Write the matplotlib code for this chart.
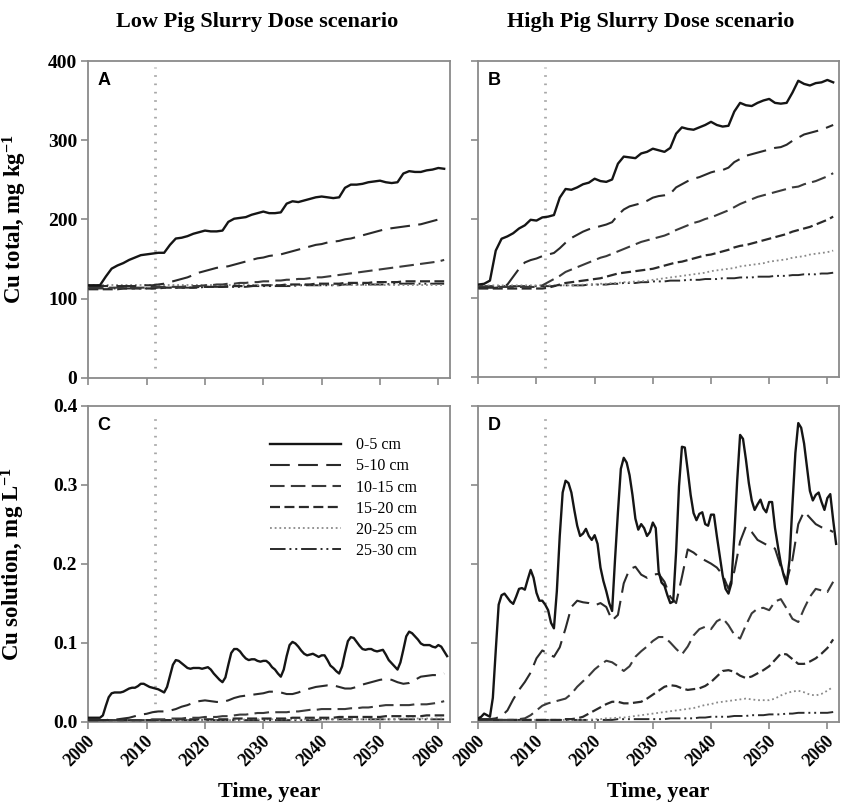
import numpy as np
import matplotlib
matplotlib.use("Agg")
import matplotlib.pyplot as plt
from matplotlib.ticker import FormatStrFormatter, MultipleLocator
from matplotlib.transforms import ScaledTranslation

plt.rcParams["font.family"] = "Liberation Serif"
plt.rcParams["font.weight"] = "bold"
plt.rcParams["axes.labelweight"] = "bold"
plt.rcParams["mathtext.fontset"] = "custom"
plt.rcParams["mathtext.rm"] = "Liberation Serif:bold"
plt.rcParams["mathtext.bf"] = "Liberation Serif:bold"
plt.rcParams["mathtext.default"] = "bf"

# ---------------------------------------------------------------- data
YEARS = np.arange(2000, 2062)            # yearly outputs 2000-2061
HALF_YEARS = np.arange(2000, 2062, 0.5)  # half-yearly outputs 2000-2061.5
LAYERS = ["0-5 cm", "5-10 cm", "10-15 cm", "15-20 cm", "20-25 cm", "25-30 cm"]
START_YEAR = 2011.4                      # start of the scenario projection
PANEL_TITLES = ["Low Pig Slurry Dose scenario", "High Pig Slurry Dose scenario"]

# Cu total (mg/kg), low dose
a_05 = [117, 117, 117, 128, 138, 142, 145, 149, 152, 155,
        156, 157, 158, 158, 168, 176, 177, 179, 182, 184,
        186, 185, 185, 186, 197, 201, 202, 203, 206, 208,
        210, 208, 208, 209, 220, 223, 222, 224, 226, 228,
        229, 228, 227, 228, 240, 244, 244, 245, 247, 248,
        249, 247, 246, 247, 258, 261, 260, 260, 262, 263,
        265, 264]
a_510 = [116, 116, 116, 116, 116, 116, 116, 116, 116, 117,
         117, 117, 118, 119, 121, 123, 125, 127, 130, 133,
         135, 137, 139, 140, 141, 143, 145, 147, 149, 151,
         152, 154, 155, 156, 158, 160, 162, 164, 166, 168,
         169, 171, 172, 173, 175, 176, 178, 180, 182, 184,
         186, 188, 189, 190, 191, 192, 193, 194, 196, 198,
         200, 202]
a_1015 = [114, 114, 114, 114, 114, 114, 114, 114, 114, 114,
          114, 115, 115, 115, 115, 115, 115, 116, 116, 116,
          117, 117, 118, 118, 119, 119, 120, 120, 121, 121,
          122, 122, 123, 123, 124, 124, 125, 125, 126, 127,
          127, 128, 129, 130, 131, 132, 133, 134, 135, 136,
          137, 138, 139, 140, 141, 142, 143, 144, 145, 146,
          147, 149]
a_1520 = [112, 112, 112, 112, 112, 112, 113, 113, 113, 113,
          113, 113, 113, 114, 114, 114, 114, 114, 114, 115,
          115, 115, 115, 115, 116, 116, 116, 116, 116, 117,
          117, 117, 117, 117, 118, 118, 118, 118, 118, 119,
          119, 119, 119, 119, 120, 120, 120, 120, 120, 121,
          121, 121, 121, 121, 122, 122, 122, 122, 122, 122,
          122, 122]
a_2025 = [117, 117, 117, 117, 117, 117, 117, 117, 117, 117,
          117, 117, 117, 117, 117, 117, 117, 117, 117, 117,
          117, 117, 117, 117, 117, 117, 117, 117, 117, 117,
          117, 117, 117, 117, 117, 117, 117, 117, 117, 117,
          117, 117, 117, 117, 117, 117, 117, 117, 117, 117,
          117, 117, 117, 117, 117, 117, 117, 117, 117, 117,
          117, 117]
a_2530 = [113, 113, 113, 113, 113, 113, 113, 113, 113, 113,
          113, 113, 114, 114, 114, 114, 114, 114, 114, 114,
          115, 115, 115, 115, 115, 115, 115, 115, 116, 116,
          116, 116, 116, 116, 116, 116, 117, 117, 117, 117,
          117, 117, 117, 117, 118, 118, 118, 118, 118, 118,
          118, 118, 119, 119, 119, 119, 119, 119, 119, 119,
          119, 119]

# Cu total (mg/kg), high dose
b_05 = [117, 118, 122, 160, 175, 178, 182, 188, 192, 199,
        198, 202, 203, 205, 227, 238, 237, 240, 244, 246,
        251, 248, 247, 250, 270, 279, 278, 277, 283, 285,
        289, 287, 285, 290, 308, 316, 314, 313, 316, 319,
        323, 319, 317, 318, 336, 347, 344, 343, 347, 350,
        352, 347, 346, 347, 360, 375, 371, 369, 372, 373,
        376, 373]
b_510 = [113, 113, 113, 113, 114, 117, 127, 137, 145, 148,
         150, 153, 155, 157, 163, 170, 176, 180, 184, 187,
         189, 191, 193, 196, 205, 212, 216, 218, 220, 223,
         227, 229, 230, 232, 240, 244, 248, 251, 253, 256,
         259, 261, 262, 265, 272, 276, 280, 282, 284, 286,
         288, 290, 291, 294, 299, 303, 307, 309, 311, 313,
         316, 319]
b_1015 = [114, 114, 114, 114, 114, 114, 114, 114, 114, 114,
          114, 116, 120, 124, 128, 133, 136, 139, 142, 145,
          148, 151, 153, 156, 159, 162, 165, 168, 171, 173,
          175, 177, 179, 182, 186, 189, 192, 195, 197, 200,
          202, 205, 208, 211, 215, 219, 222, 225, 228, 230,
          232, 234, 236, 238, 240, 241, 244, 246, 248, 251,
          254, 258]
b_1520 = [112, 112, 112, 112, 112, 112, 112, 112, 112, 112,
          112, 112, 113, 115, 117, 119, 120, 121, 122, 123,
          124, 125, 127, 129, 131, 132, 133, 134, 135, 136,
          137, 139, 141, 143, 145, 146, 148, 150, 152, 154,
          155, 157, 159, 161, 164, 166, 167, 169, 171, 173,
          175, 177, 179, 181, 184, 186, 188, 190, 193, 196,
          199, 203]
b_2025 = [116, 116, 116, 116, 116, 116, 116, 116, 116, 116,
          116, 116, 116, 116, 116, 116, 116, 116, 117, 117,
          117, 118, 118, 119, 119, 120, 120, 121, 121, 122,
          123, 124, 125, 126, 127, 128, 129, 130, 131, 132,
          134, 135, 136, 137, 138, 140, 141, 142, 143, 144,
          146, 147, 148, 149, 151, 152, 153, 155, 156, 157,
          158, 160]
b_2530 = [115, 115, 115, 115, 115, 115, 115, 115, 115, 115,
          115, 115, 115, 115, 116, 116, 116, 116, 116, 117,
          117, 117, 117, 118, 118, 119, 119, 119, 120, 120,
          121, 121, 121, 122, 122, 122, 123, 123, 123, 124,
          124, 124, 125, 125, 125, 126, 126, 126, 127, 127,
          127, 128, 128, 128, 129, 129, 130, 130, 130, 131,
          131, 132]

# Cu in solution (mg/L), low dose; top layer half-yearly
c_05 = [0.005, 0.005, 0.005, 0.005, 0.005, 0.008, 0.020, 0.031, 0.036, 0.037,
        0.037, 0.037, 0.038, 0.040, 0.042, 0.043, 0.043, 0.045, 0.048, 0.048,
        0.046, 0.044, 0.043, 0.042, 0.041, 0.039, 0.037, 0.044, 0.058, 0.072,
        0.078, 0.077, 0.074, 0.071, 0.068, 0.067, 0.068, 0.068, 0.068, 0.067,
        0.068, 0.069, 0.066, 0.061, 0.057, 0.053, 0.050, 0.056, 0.072, 0.087,
        0.092, 0.092, 0.089, 0.084, 0.080, 0.078, 0.079, 0.079, 0.077, 0.076,
        0.077, 0.077, 0.074, 0.069, 0.066, 0.061, 0.057, 0.066, 0.083, 0.097,
        0.101, 0.099, 0.095, 0.090, 0.086, 0.084, 0.085, 0.086, 0.084, 0.082,
        0.084, 0.084, 0.078, 0.071, 0.068, 0.064, 0.061, 0.070, 0.087, 0.102,
        0.107, 0.106, 0.101, 0.096, 0.092, 0.091, 0.092, 0.092, 0.090, 0.089,
        0.090, 0.091, 0.085, 0.078, 0.074, 0.070, 0.066, 0.075, 0.091, 0.108,
        0.114, 0.112, 0.108, 0.104, 0.099, 0.097, 0.097, 0.097, 0.095, 0.094,
        0.097, 0.095, 0.089, 0.083]
c_510 = [0.002, 0.002, 0.002, 0.002, 0.003, 0.003, 0.004, 0.005, 0.007, 0.009,
         0.010, 0.012, 0.013, 0.013, 0.014, 0.016, 0.019, 0.021, 0.024, 0.026,
         0.027, 0.026, 0.025, 0.025, 0.027, 0.030, 0.032, 0.033, 0.034, 0.035,
         0.036, 0.038, 0.038, 0.037, 0.035, 0.035, 0.037, 0.040, 0.042, 0.044,
         0.045, 0.046, 0.046, 0.044, 0.042, 0.042, 0.044, 0.047, 0.049, 0.051,
         0.053, 0.054, 0.053, 0.050, 0.048, 0.049, 0.053, 0.057, 0.058, 0.059,
         0.059, 0.061]
c_1015 = [0.002, 0.002, 0.002, 0.002, 0.002, 0.002, 0.002, 0.002, 0.002, 0.002,
          0.002, 0.003, 0.003, 0.003, 0.004, 0.004, 0.004, 0.005, 0.005, 0.005,
          0.006, 0.006, 0.006, 0.007, 0.007, 0.008, 0.009, 0.009, 0.010, 0.011,
          0.011, 0.012, 0.012, 0.012, 0.012, 0.013, 0.013, 0.014, 0.015, 0.015,
          0.016, 0.016, 0.016, 0.016, 0.016, 0.017, 0.017, 0.018, 0.018, 0.019,
          0.020, 0.021, 0.021, 0.021, 0.021, 0.021, 0.022, 0.022, 0.022, 0.023,
          0.024, 0.026]
c_1520 = [0.002, 0.002, 0.002, 0.002, 0.002, 0.002, 0.002, 0.002, 0.002, 0.002,
          0.002, 0.002, 0.002, 0.002, 0.002, 0.003, 0.003, 0.003, 0.003, 0.003,
          0.003, 0.003, 0.003, 0.003, 0.003, 0.004, 0.004, 0.004, 0.004, 0.004,
          0.004, 0.004, 0.004, 0.004, 0.004, 0.005, 0.005, 0.005, 0.005, 0.005,
          0.005, 0.005, 0.005, 0.006, 0.006, 0.006, 0.006, 0.006, 0.006, 0.006,
          0.006, 0.007, 0.007, 0.007, 0.007, 0.007, 0.007, 0.007, 0.008, 0.008,
          0.008, 0.008]
c_2025 = [0.002, 0.002, 0.002, 0.002, 0.002, 0.002, 0.002, 0.002, 0.002, 0.002,
          0.002, 0.002, 0.002, 0.002, 0.002, 0.002, 0.002, 0.002, 0.002, 0.002,
          0.002, 0.002, 0.002, 0.002, 0.002, 0.002, 0.002, 0.003, 0.003, 0.003,
          0.003, 0.003, 0.003, 0.003, 0.003, 0.003, 0.003, 0.003, 0.003, 0.003,
          0.003, 0.003, 0.003, 0.003, 0.003, 0.003, 0.003, 0.003, 0.003, 0.003,
          0.003, 0.003, 0.003, 0.004, 0.004, 0.004, 0.004, 0.004, 0.004, 0.004,
          0.004, 0.004]
c_2530 = [0.002, 0.002, 0.002, 0.002, 0.002, 0.002, 0.002, 0.002, 0.002, 0.002,
          0.002, 0.002, 0.002, 0.002, 0.002, 0.002, 0.002, 0.002, 0.002, 0.002,
          0.002, 0.002, 0.002, 0.002, 0.002, 0.002, 0.002, 0.002, 0.002, 0.002,
          0.002, 0.002, 0.002, 0.002, 0.002, 0.002, 0.002, 0.002, 0.002, 0.002,
          0.003, 0.003, 0.003, 0.003, 0.003, 0.003, 0.003, 0.003, 0.003, 0.003,
          0.003, 0.003, 0.003, 0.003, 0.003, 0.003, 0.003, 0.003, 0.003, 0.003,
          0.003, 0.003]

# Cu in solution (mg/L), high dose; top layer half-yearly
d_05 = [0.004, 0.006, 0.010, 0.008, 0.006, 0.030, 0.090, 0.148, 0.160, 0.162,
        0.157, 0.152, 0.149, 0.158, 0.168, 0.169, 0.167, 0.180, 0.192, 0.182,
        0.163, 0.153, 0.153, 0.148, 0.141, 0.125, 0.118, 0.165, 0.235, 0.290,
        0.305, 0.302, 0.290, 0.268, 0.248, 0.235, 0.238, 0.244, 0.235, 0.230,
        0.236, 0.225, 0.195, 0.178, 0.165, 0.150, 0.140, 0.205, 0.265, 0.320,
        0.334, 0.328, 0.312, 0.287, 0.257, 0.243, 0.250, 0.245, 0.235, 0.240,
        0.252, 0.245, 0.190, 0.176, 0.172, 0.160, 0.150, 0.152, 0.215, 0.298,
        0.348, 0.347, 0.318, 0.287, 0.264, 0.255, 0.263, 0.265, 0.250, 0.248,
        0.262, 0.262, 0.235, 0.210, 0.185, 0.168, 0.162, 0.175, 0.235, 0.305,
        0.363, 0.358, 0.332, 0.302, 0.280, 0.268, 0.275, 0.281, 0.270, 0.265,
        0.278, 0.278, 0.245, 0.222, 0.200, 0.185, 0.174, 0.205, 0.275, 0.340,
        0.378, 0.372, 0.352, 0.322, 0.292, 0.280, 0.287, 0.290, 0.278, 0.268,
        0.283, 0.288, 0.255, 0.225]
d_510 = [0.003, 0.003, 0.003, 0.004, 0.007, 0.014, 0.028, 0.040, 0.050, 0.062,
         0.080, 0.090, 0.086, 0.082, 0.094, 0.118, 0.145, 0.153, 0.151, 0.150,
         0.147, 0.150, 0.145, 0.128, 0.135, 0.175, 0.193, 0.196, 0.186, 0.182,
         0.186, 0.187, 0.177, 0.158, 0.150, 0.183, 0.218, 0.214, 0.208, 0.204,
         0.200, 0.195, 0.186, 0.168, 0.190, 0.228, 0.247, 0.240, 0.230, 0.226,
         0.222, 0.219, 0.196, 0.178, 0.205, 0.250, 0.266, 0.258, 0.250, 0.246,
         0.244, 0.240]
d_1015 = [0.002, 0.002, 0.002, 0.002, 0.002, 0.002, 0.002, 0.003, 0.004, 0.008,
          0.014, 0.020, 0.023, 0.025, 0.027, 0.029, 0.035, 0.044, 0.051, 0.058,
          0.066, 0.072, 0.077, 0.075, 0.070, 0.064, 0.070, 0.082, 0.089, 0.095,
          0.102, 0.107, 0.107, 0.100, 0.092, 0.085, 0.095, 0.109, 0.117, 0.120,
          0.117, 0.127, 0.131, 0.122, 0.110, 0.105, 0.122, 0.137, 0.143, 0.144,
          0.141, 0.152, 0.155, 0.143, 0.130, 0.126, 0.143, 0.158, 0.168, 0.166,
          0.164, 0.177]
d_1520 = [0.002, 0.002, 0.002, 0.002, 0.002, 0.002, 0.002, 0.002, 0.002, 0.002,
          0.002, 0.002, 0.002, 0.002, 0.002, 0.003, 0.003, 0.004, 0.006, 0.010,
          0.014, 0.018, 0.022, 0.025, 0.025, 0.023, 0.023, 0.024, 0.025, 0.029,
          0.034, 0.039, 0.044, 0.046, 0.045, 0.042, 0.040, 0.041, 0.042, 0.045,
          0.050, 0.057, 0.064, 0.065, 0.063, 0.058, 0.055, 0.057, 0.061, 0.065,
          0.070, 0.078, 0.086, 0.085, 0.079, 0.073, 0.073, 0.076, 0.080, 0.086,
          0.093, 0.104]
d_2025 = [0.002, 0.002, 0.002, 0.002, 0.002, 0.002, 0.002, 0.002, 0.002, 0.002,
          0.002, 0.002, 0.002, 0.002, 0.002, 0.002, 0.002, 0.002, 0.002, 0.002,
          0.003, 0.003, 0.004, 0.004, 0.005, 0.005, 0.006, 0.007, 0.008, 0.009,
          0.010, 0.011, 0.012, 0.013, 0.014, 0.015, 0.016, 0.017, 0.019, 0.021,
          0.022, 0.024, 0.025, 0.026, 0.027, 0.028, 0.029, 0.028, 0.027, 0.027,
          0.027, 0.029, 0.033, 0.036, 0.038, 0.039, 0.037, 0.034, 0.033, 0.035,
          0.039, 0.044]
d_2530 = [0.002, 0.002, 0.002, 0.002, 0.002, 0.002, 0.002, 0.002, 0.002, 0.002,
          0.002, 0.002, 0.002, 0.002, 0.002, 0.002, 0.002, 0.002, 0.002, 0.002,
          0.002, 0.002, 0.002, 0.002, 0.003, 0.003, 0.003, 0.003, 0.003, 0.003,
          0.003, 0.003, 0.003, 0.004, 0.004, 0.004, 0.004, 0.004, 0.005, 0.005,
          0.006, 0.006, 0.006, 0.006, 0.007, 0.007, 0.007, 0.008, 0.008, 0.008,
          0.009, 0.009, 0.009, 0.010, 0.010, 0.011, 0.011, 0.011, 0.011, 0.011,
          0.011, 0.012]

# ---------------------------------------------------------------- styles
STYLES = [
    dict(color="#151515", lw=1.7, ls="-"),
    dict(color="#2a2a2a", lw=1.5, ls=(0, (9.5, 4))),
    dict(color="#3a3a3a", lw=1.5, ls=(0, (7, 3))),
    dict(color="#2a2a2a", lw=1.6, ls=(0, (4.5, 2))),
    dict(color="#8a8a8a", lw=1.3, ls=(0, (1, 1.6))),
    dict(color="#2a2a2a", lw=1.4, ls=(0, (8, 2, 1, 2, 1, 2))),
]
FRAME = "#8a8a8a"

panels = [
    dict(letter="A", series=[(YEARS, a_05), (YEARS, a_510), (YEARS, a_1015),
                             (YEARS, a_1520), (YEARS, a_2025), (YEARS, a_2530)]),
    dict(letter="B", series=[(YEARS, b_05), (YEARS, b_510), (YEARS, b_1015),
                             (YEARS, b_1520), (YEARS, b_2025), (YEARS, b_2530)]),
    dict(letter="C", series=[(HALF_YEARS, c_05), (YEARS, c_510), (YEARS, c_1015),
                             (YEARS, c_1520), (YEARS, c_2025), (YEARS, c_2530)]),
    dict(letter="D", series=[(HALF_YEARS, d_05), (YEARS, d_510), (YEARS, d_1015),
                             (YEARS, d_1520), (YEARS, d_2025), (YEARS, d_2530)]),
]

W, H = 844, 809
fig = plt.figure(figsize=(W / 100, H / 100), dpi=100)

def frac_rect(x0, y0, x1, y1):
    return [x0 / W, 1 - y1 / H, (x1 - x0) / W, (y1 - y0) / H]

rects = [frac_rect(88.3, 61, 450, 378), frac_rect(478.3, 61, 839, 377),
         frac_rect(88.3, 405.7, 450, 721.7), frac_rect(478.3, 405.7, 839, 721.5)]

axes = []
for i, (panel, rect) in enumerate(zip(panels, rects)):
    ax = fig.add_axes(rect)
    axes.append(ax)
    top = i < 2
    left = i % 2 == 0

    # draw deepest layers first so the surface layer sits on top
    for k in reversed(range(len(LAYERS))):
        t, v = panel["series"][k]
        st = STYLES[k]
        ax.plot(t, v, color=st["color"], lw=st["lw"], linestyle=st["ls"],
                label=LAYERS[k], zorder=3 + (len(LAYERS) - k) * 0.1,
                solid_joinstyle="round")

    ax.axvline(START_YEAR, ymin=0.03, ymax=0.98, color="#a8a8a8", lw=2.0,
               linestyle=(0, (0.6, 2.4)), zorder=2)

    ax.set_xlim(2000, 2062)
    ax.xaxis.set_major_locator(MultipleLocator(10))
    if top:
        ax.set_ylim(0, 400)
        ax.yaxis.set_major_locator(MultipleLocator(100))
    else:
        ax.set_ylim(0, 0.4)
        ax.yaxis.set_major_locator(MultipleLocator(0.1))
        ax.yaxis.set_major_formatter(FormatStrFormatter("%.1f"))

    for sp in ax.spines.values():
        sp.set_color(FRAME)
        sp.set_linewidth(1.3)
    ax.tick_params(axis="both", direction="out", length=5, width=1.2,
                   color=FRAME, labelsize=14, pad=3)
    ax.tick_params(axis="x", labelsize=13)
    if top:
        ax.tick_params(axis="x", labelbottom=False)
    else:
        for lbl in ax.get_xticklabels():
            lbl.set_rotation(45)
            lbl.set_ha("right")
            lbl.set_transform(lbl.get_transform() +
                              ScaledTranslation(7 / 72, 0, fig.dpi_scale_trans))
        ax.set_xlabel("Time, year", fontsize=16, fontweight="bold")
        ax.xaxis.set_label_coords(0.5, -0.19)
    if not left:
        ax.tick_params(axis="y", labelleft=False)

    ax.text(0.025, 0.965, panel["letter"], transform=ax.transAxes,
            family="Liberation Sans", fontweight="bold", fontsize=13,
            ha="left", va="top")

axes[0].set_ylabel("Cu total, mg kg$^{-1}$", fontsize=16.5, fontweight="bold")
axes[0].yaxis.set_label_coords(-0.165, 0.5)
axes[2].set_ylabel("Cu solution, mg L$^{-1}$", fontsize=16.5, fontweight="bold")
axes[2].yaxis.set_label_coords(-0.17, 0.5)

handles, labels = axes[2].get_legend_handles_labels()
order = [labels.index(name) for name in LAYERS]
axes[2].legend([handles[j] for j in order], [labels[j] for j in order],
               loc="upper left", bbox_to_anchor=(0.503, 0.90), frameon=False,
               handlelength=4.4, handletextpad=1.0,
               labelspacing=0.32, borderaxespad=0, borderpad=0,
               prop={"family": "Liberation Serif", "weight": "normal", "size": 11.5})

fig.text(257 / W, 1 - 22 / H, PANEL_TITLES[0], ha="center", va="center",
         fontsize=16, fontweight="bold")
fig.text(651 / W, 1 - 22 / H, PANEL_TITLES[1], ha="center", va="center",
         fontsize=16, fontweight="bold")

fig.savefig("out.png", dpi=100)
